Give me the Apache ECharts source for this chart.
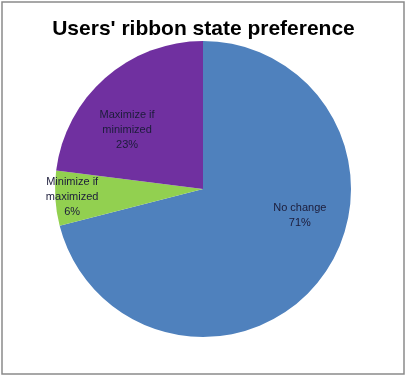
<!DOCTYPE html>
<html>
<head>
<meta charset="utf-8">
<script src="https://cdn.jsdelivr.net/npm/echarts@6/dist/echarts.min.js"></script>
<style>
  html, body { margin: 0; padding: 0; background: #fff; }
  #chart { width: 407px; height: 377px; }
</style>
</head>
<body>
<div id="chart"></div>
<script>
  // chart data
  const categories = ['No change', 'Minimize if\nmaximized', 'Maximize if\nminimized'];
  const shares = [71, 6, 23];
  const colors = ['#4f81bd', '#92d050', '#7030a0'];
  // label nudges so text sits where Excel put it
  const labelOffsets = [[36, -21], [-54, 3], [-25, -1]];

  const chart = echarts.init(document.getElementById('chart'));

  const option = {
    animation: false,
    title: {
      text: "Users' ribbon state preference",
      left: 'center',
      top: 14,
      textStyle: {
        fontFamily: 'Liberation Sans',
        fontWeight: 'bold',
        fontSize: 21,
        color: '#000'
      }
    },
    graphic: [{
      type: 'rect',
      shape: { x: 2, y: 2, width: 402, height: 372 },
      style: { fill: 'none', stroke: '#8a8a8a', lineWidth: 1.5 },
      silent: true
    }],
    series: [{
      type: 'pie',
      center: [203, 189],
      radius: 148,
      startAngle: 90,
      clockwise: true,
      label: {
        show: true,
        position: 'inside',
        formatter: '{b}\n{c}%',
        fontFamily: 'Liberation Sans',
        fontSize: 11,
        lineHeight: 15,
        color: '#1c1c3a'
      },
      labelLine: { show: false },
      itemStyle: { borderWidth: 0 },
      emphasis: { disabled: true },
      data: categories.map((name, i) => ({
        name: name,
        value: shares[i],
        itemStyle: { color: colors[i] },
        label: { offset: labelOffsets[i] }
      }))
    }]
  };

  chart.setOption(option);
</script>
</body>
</html>
